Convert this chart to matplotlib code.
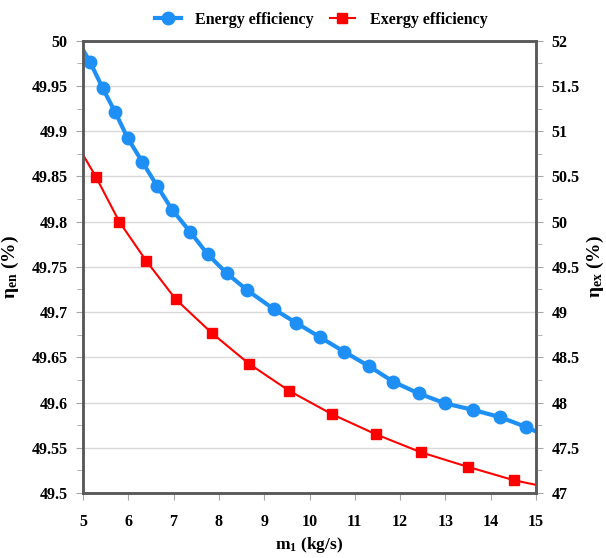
import numpy as np
import matplotlib.pyplot as plt
from matplotlib.ticker import MultipleLocator

plt.rcParams['font.family'] = ['Liberation Serif', 'DejaVu Serif']
plt.rcParams['font.weight'] = 'bold'
plt.rcParams['mathtext.fontset'] = 'custom'
plt.rcParams['mathtext.rm'] = 'Liberation Serif:bold'
plt.rcParams['mathtext.bf'] = 'Liberation Serif:bold'
plt.rcParams['mathtext.it'] = 'Liberation Serif:bold'

# energy efficiency (left axis), first/last entries are the line ends
m_en = [5.0, 5.15, 5.43, 5.71, 5.99, 6.31, 6.64, 6.97, 7.36, 7.75, 8.17, 8.63,
        9.22, 9.71, 10.24, 10.77, 11.32, 11.85, 12.41, 13.0, 13.6, 14.2, 14.78, 15.0]
eta_en = [49.990, 49.977, 49.948, 49.921, 49.892, 49.866, 49.839, 49.813, 49.789,
          49.764, 49.743, 49.724, 49.703, 49.688, 49.672, 49.656, 49.640, 49.623,
          49.610, 49.599, 49.592, 49.584, 49.573, 49.568]

# exergy efficiency (right axis)
m_ex = [5.0, 5.29, 5.80, 6.39, 7.05, 7.84, 8.66, 9.55, 10.5, 11.46, 12.46,
        13.49, 14.52, 15.0]
eta_ex = [50.74, 50.49, 50.00, 49.57, 49.14, 48.77, 48.43, 48.13, 47.87, 47.65,
          47.45, 47.29, 47.14, 47.09]

blue = '#1E90F5'
red = '#FF0000'
frame = '#595959'

fig = plt.figure(figsize=(6.06, 5.58), dpi=100)
ax = fig.add_axes([0.137, 0.1165, 0.7475, 0.8105])
ax2 = ax.twinx()

l1, = ax.plot(m_en, eta_en, color=blue, lw=3, marker='o', ms=9,
              markevery=list(range(1, len(m_en) - 1)), label='Energy efficiency')
l2, = ax2.plot(m_ex, eta_ex, color=red, lw=1.5, marker='s', ms=6.5,
               markevery=list(range(1, len(m_ex) - 1)), label='Exergy efficiency')

ax.set_xlim(5, 15)
ax.set_ylim(49.5, 50)
ax2.set_ylim(47, 52)
ax.xaxis.set_major_locator(MultipleLocator(1))
ax.yaxis.set_major_locator(MultipleLocator(0.05))
ax.yaxis.set_minor_locator(MultipleLocator(0.025))
ax2.yaxis.set_major_locator(MultipleLocator(0.5))
ax2.yaxis.set_minor_locator(MultipleLocator(0.25))
ax.yaxis.set_major_formatter(plt.FuncFormatter(lambda v, p: f'{v:g}'))
ax2.yaxis.set_major_formatter(plt.FuncFormatter(lambda v, p: f'{v:g}'))

ax.grid(axis='y', which='major', color='#d9d9d9', lw=1)
ax.set_axisbelow(True)

for a in (ax, ax2):
    for s in a.spines.values():
        s.set_color(frame)
        s.set_linewidth(1.8)
    a.tick_params(which='both', color='#a6a6a6', labelsize=11.5, pad=6)
    a.tick_params(which='major', length=5)
    a.tick_params(which='minor', length=4)
    for t in a.get_xticklabels() + a.get_yticklabels():
        t.set_fontweight('bold')
ax.tick_params(axis='x', pad=10)

ax.set_xlabel('m$_\\mathregular{1}$ (kg/s)', fontsize=12.5, fontweight='bold', labelpad=4)
ax.set_ylabel('η$_\\mathregular{en}$ (%)', fontsize=14, fontweight='bold', labelpad=8)
ax2.set_ylabel('η$_\\mathregular{ex}$ (%)', fontsize=14, fontweight='bold', labelpad=4)

fig.legend(handles=[l1, l2], loc='upper center', bbox_to_anchor=(0.53, 1.005),
           ncol=2, frameon=False, prop={'weight': 'bold', 'size': 11.5},
           handlelength=1.6, handletextpad=0.9, columnspacing=1.0)

fig.savefig('out.png', dpi=100)
